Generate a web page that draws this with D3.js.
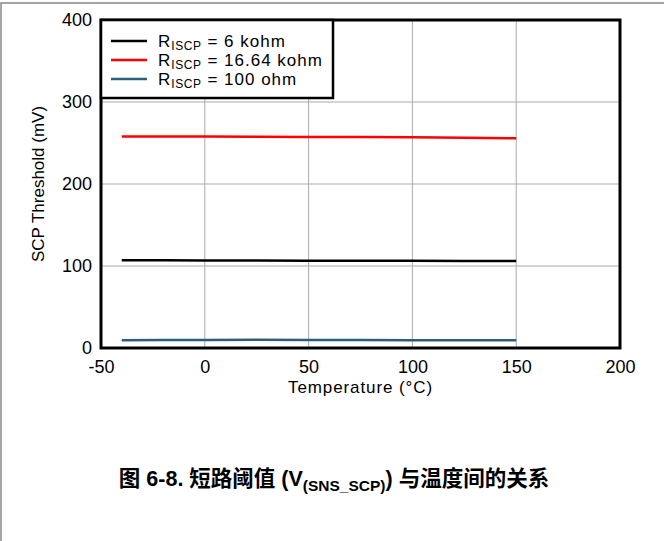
<!DOCTYPE html>
<html>
<head>
<meta charset="utf-8">
<script src="https://cdn.jsdelivr.net/npm/d3@7"></script>
<style>
  body { margin: 0; background: #fff; }
  svg { display: block; font-family: "Liberation Sans", Arial, sans-serif; }
</style>
</head>
<body>
<svg id="chart" width="664" height="541"></svg>
<script>
// temperature points (°C)
const temps = [-40, -20, 0, 25, 50, 75, 100, 125, 150];
// SCP threshold (mV) per R_ISCP
const r6k = [107, 107, 106.8, 106.6, 106.5, 106.4, 106.3, 106.1, 106];
const r16k = [258, 258, 257.8, 257.5, 257.3, 257.2, 257, 256.3, 255.7];
const r100 = [9.6, 9.7, 9.8, 10, 9.9, 9.8, 9.6, 9.4, 9.3];
const xTicks = [-50, 0, 50, 100, 150, 200];
const yTicks = [0, 100, 200, 300, 400];

const series = [
  { name: '6 kohm', values: r6k, color: '#000000' },
  { name: '16.64 kohm', values: r16k, color: '#ff0000' },
  { name: '100 ohm', values: r100, color: '#2e5f7a' }
];

const svg = d3.select('#chart');
const margin = { left: 101, top: 20, right: 44, bottom: 193 };
const width = 664 - margin.left - margin.right;
const height = 541 - margin.top - margin.bottom;

// outer page frame
svg.append('rect')
  .attr('x', 1).attr('y', 3)
  .attr('width', 700).attr('height', 600)
  .attr('fill', 'none').attr('stroke', '#888').attr('stroke-width', 1.5);

const g = svg.append('g').attr('transform', `translate(${margin.left},${margin.top})`);

const x = d3.scaleLinear().domain([-50, 200]).range([0, width]);
const y = d3.scaleLinear().domain([0, 400]).range([height, 0]);

// grid
g.append('g')
  .selectAll('line')
  .data(xTicks)
  .enter()
  .append('line')
  .attr('x1', d => x(d)).attr('x2', d => x(d))
  .attr('y1', 0).attr('y2', height)
  .attr('stroke', '#aaa').attr('stroke-width', 1);
g.append('g')
  .selectAll('line')
  .data(yTicks)
  .enter()
  .append('line')
  .attr('x1', 0).attr('x2', width)
  .attr('y1', d => y(d)).attr('y2', d => y(d))
  .attr('stroke', '#aaa').attr('stroke-width', 1);

// axes (labels only, no tick marks)
const xAxis = g.append('g')
  .attr('transform', `translate(0,${height})`)
  .call(d3.axisBottom(x).tickValues(xTicks).tickFormat(d => String(d)).tickSize(0).tickPadding(12));
const yAxis = g.append('g')
  .call(d3.axisLeft(y).tickValues(yTicks).tickFormat(d => String(d)).tickSize(0).tickPadding(9));
[xAxis, yAxis].forEach(a => {
  a.select('.domain').remove();
  a.selectAll('text')
    .attr('font-size', 18)
    .attr('font-family', '"Liberation Sans", Arial, sans-serif')
    .attr('fill', '#000');
});

// lines
const line = d3.line()
  .x((d, i) => x(temps[i]))
  .y(d => y(d));
series.forEach(s => {
  g.append('path')
    .datum(s.values)
    .attr('d', line)
    .attr('fill', 'none')
    .attr('stroke', s.color)
    .attr('stroke-width', 2.5);
});

// plot frame
g.append('rect')
  .attr('x', 0).attr('y', 0)
  .attr('width', width).attr('height', height)
  .attr('fill', 'none').attr('stroke', '#000').attr('stroke-width', 3);

// legend
const legend = g.append('g');
legend.append('rect')
  .attr('x', 0).attr('y', 0)
  .attr('width', 232).attr('height', 78)
  .attr('fill', '#fff').attr('stroke', '#000').attr('stroke-width', 2.5);
series.forEach((s, i) => {
  const ly = 21 + i * 19;
  legend.append('line')
    .attr('x1', 10).attr('x2', 46)
    .attr('y1', ly).attr('y2', ly)
    .attr('stroke', s.color).attr('stroke-width', 2.5);
  const t = legend.append('text')
    .attr('x', 57).attr('y', ly + 6)
    .attr('font-size', 17).attr('fill', '#000')
    .attr('letter-spacing', 1);
  t.append('tspan').text('R');
  t.append('tspan').attr('font-size', 12).attr('dy', 3).attr('letter-spacing', 0.6).text('ISCP');
  t.append('tspan').attr('dy', -3).text(' = ' + s.name);
});

// axis titles
svg.append('text')
  .attr('x', margin.left + width / 2).attr('y', 393)
  .attr('text-anchor', 'middle').attr('font-size', 17)
  .attr('letter-spacing', 0.9)
  .text('Temperature (°C)');
svg.append('text')
  .attr('transform', `translate(44,${margin.top + height / 2}) rotate(-90)`)
  .attr('text-anchor', 'middle').attr('font-size', 17)
  .text('SCP Threshold (mV)');

// caption
const cap = svg.append('text')
  .attr('x', 334).attr('y', 486)
  .attr('text-anchor', 'middle')
  .attr('font-size', 21.5).attr('font-weight', 'bold')
  .attr('font-family', '"Liberation Sans", "Noto Sans CJK SC", sans-serif');
cap.append('tspan').text('图 6-8. 短路阈值 (V');
cap.append('tspan').attr('font-size', 15.5).attr('dy', 5).text('(SNS_SCP)');
cap.append('tspan').attr('dy', -5).text(') 与温度间的关系');
</script>
</body>
</html>
